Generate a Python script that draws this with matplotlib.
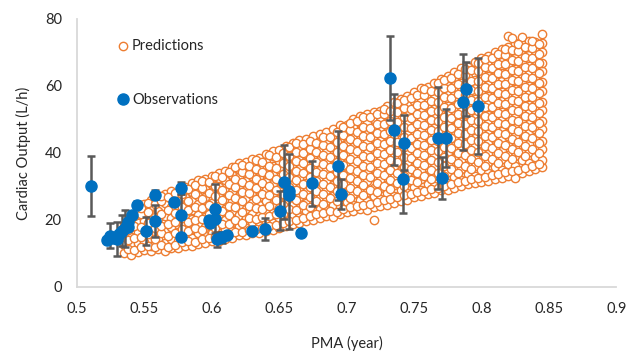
import matplotlib.pyplot as plt

plt.rcParams['font.family'] = ['Lato', 'DejaVu Sans']

pred_cols = [0.535, 0.540, 0.545, 0.550, 0.555, 0.560, 0.565, 0.570, 0.575, 0.580,
             0.585, 0.590, 0.595, 0.600, 0.605, 0.610, 0.615, 0.620, 0.625, 0.630,
             0.635, 0.640, 0.645, 0.650, 0.655, 0.660, 0.665, 0.670, 0.675, 0.680,
             0.685, 0.690, 0.695, 0.700, 0.705, 0.710, 0.715, 0.720, 0.725, 0.730,
             0.735, 0.740, 0.745, 0.750, 0.755, 0.760, 0.765, 0.770, 0.775, 0.780,
             0.785, 0.790, 0.795, 0.800, 0.805, 0.810, 0.815, 0.820, 0.825, 0.830,
             0.835, 0.840, 0.845]
pred_vals = [
    [10.2, 12.6, 15.8, 18.4],
    [9.6, 12.9, 14.8, 17.9, 20.7],
    [10.4, 13.2, 16.5, 19.1, 22.6],
    [11.0, 13.4, 17.3, 19.8, 23.1, 24.8],
    [10.6, 12.1, 15.7, 18.2, 21.6, 24.3, 25.9],
    [11.3, 14.4, 16.9, 20.4, 22.8, 26.1],
    [10.7, 13.0, 16.3, 19.1, 21.2, 24.9, 27.6],
    [11.6, 14.2, 17.8, 20.6, 23.9, 26.2, 28.7],
    [11.5, 13.6, 16.4, 19.7, 22.1, 25.6, 27.9],
    [12.3, 15.1, 18.6, 21.0, 24.3, 26.8, 29.8],
    [12.1, 14.7, 17.2, 20.3, 22.9, 26.0, 28.4, 30.9],
    [12.8, 16.0, 18.9, 21.4, 24.7, 27.2, 30.3, 31.8],
    [13.0, 15.3, 17.8, 20.9, 23.6, 26.7, 29.1, 32.3],
    [13.6, 16.2, 19.4, 22.6, 25.0, 28.3, 30.6, 33.0],
    [13.7, 15.5, 18.6, 21.7, 24.2, 27.5, 29.9, 32.6, 34.1],
    [14.3, 17.4, 20.1, 23.3, 26.1, 28.6, 31.8, 34.6],
    [14.6, 16.7, 19.3, 22.6, 25.7, 28.2, 30.9, 33.5, 35.8],
    [15.4, 18.2, 21.5, 23.9, 27.0, 29.6, 32.8, 35.3, 36.9],
    [15.6, 17.5, 20.6, 23.2, 26.4, 29.0, 31.7, 34.8, 37.2],
    [16.2, 19.3, 21.8, 24.9, 27.5, 30.7, 33.2, 36.4, 38.1],
    [16.0, 18.1, 21.3, 24.5, 26.8, 30.2, 32.7, 35.6, 38.6],
    [16.8, 19.7, 22.4, 25.6, 28.9, 31.3, 34.1, 37.4, 39.8],
    [17.1, 19.0, 22.0, 24.7, 27.6, 30.8, 33.5, 36.2, 39.1, 40.6],
    [17.7, 20.6, 23.5, 26.1, 29.3, 32.0, 35.2, 37.7, 40.9],
    [18.1, 20.1, 22.7, 25.9, 28.4, 31.6, 34.3, 37.2, 40.0, 42.0],
    [18.7, 21.4, 24.5, 27.0, 30.3, 33.1, 35.7, 38.9, 41.5, 43.1],
    [19.0, 20.8, 23.6, 26.8, 29.4, 32.4, 35.3, 38.0, 41.2, 43.9],
    [19.8, 22.6, 25.1, 28.3, 30.9, 34.2, 36.7, 39.6, 42.4, 44.2],
    [20.1, 21.7, 24.8, 27.5, 30.7, 33.4, 36.5, 39.1, 42.0, 44.9],
    [20.7, 23.3, 26.6, 29.1, 32.4, 35.0, 37.8, 41.0, 43.5, 45.6],
    [21.2, 23.0, 25.7, 28.9, 31.5, 34.8, 37.3, 40.2, 43.4, 46.1],
    [21.0, 24.5, 27.1, 30.4, 33.0, 36.1, 38.7, 41.9, 44.5, 47.0],
    [21.7, 23.8, 26.9, 29.6, 32.8, 35.4, 38.6, 41.2, 44.3, 46.8, 48.3],
    [22.3, 25.3, 27.9, 31.2, 33.7, 36.9, 39.5, 42.8, 45.3, 48.4],
    [22.6, 24.6, 27.7, 30.3, 33.5, 36.1, 39.4, 41.9, 45.2, 47.7, 50.1],
    [23.2, 26.0, 29.2, 31.8, 35.0, 37.5, 40.7, 43.3, 46.6, 49.1, 51.0],
    [23.0, 25.5, 28.3, 31.5, 34.1, 37.3, 39.9, 43.2, 45.7, 48.9, 51.7],
    [20.1, 23.8, 27.0, 29.6, 32.9, 35.4, 38.7, 41.2, 44.5, 47.0, 50.2, 52.3],
    [24.1, 26.3, 29.4, 32.0, 35.3, 37.8, 41.1, 43.6, 46.9, 49.4, 52.6],
    [24.6, 27.9, 30.5, 33.8, 36.3, 39.6, 42.1, 45.4, 47.9, 51.2, 53.9],
    [25.1, 27.2, 30.3, 32.9, 36.2, 38.7, 42.0, 44.5, 47.8, 50.3, 53.6, 55.2],
    [25.7, 28.8, 31.4, 34.7, 37.2, 40.5, 43.0, 46.3, 48.8, 52.1, 54.6, 56.1],
    [26.0, 28.1, 31.2, 33.8, 37.1, 39.6, 42.9, 45.4, 48.7, 51.2, 54.5, 57.0],
    [26.8, 29.9, 32.4, 35.7, 38.2, 41.5, 44.0, 47.3, 49.8, 53.1, 55.6, 58.1],
    [27.1, 29.0, 32.3, 34.8, 38.1, 40.6, 43.9, 46.4, 49.7, 52.2, 55.5, 58.0, 59.3],
    [27.7, 30.8, 33.3, 36.6, 39.1, 42.4, 44.9, 48.2, 50.7, 54.0, 56.5, 59.6],
    [28.1, 30.0, 33.2, 35.7, 39.0, 41.5, 44.8, 47.3, 50.6, 53.1, 56.4, 58.9, 61.0],
    [28.8, 31.8, 34.3, 37.6, 40.1, 43.4, 45.9, 49.2, 51.7, 55.0, 57.5, 60.8, 62.2],
    [29.0, 31.0, 34.2, 36.7, 40.0, 42.5, 45.8, 48.3, 51.6, 54.1, 57.4, 59.9, 62.9],
    [29.6, 32.8, 35.3, 38.6, 41.1, 44.4, 46.9, 50.2, 52.7, 56.0, 58.5, 61.8, 64.1],
    [30.1, 32.0, 35.2, 37.7, 41.0, 43.5, 46.8, 49.3, 52.6, 55.1, 58.4, 60.9, 64.2, 65.3],
    [30.7, 33.8, 36.3, 39.6, 42.1, 45.4, 47.9, 51.2, 53.7, 57.0, 59.5, 62.8, 65.5],
    [31.0, 33.0, 36.2, 38.7, 42.0, 44.5, 47.8, 50.3, 53.6, 56.1, 59.4, 61.9, 65.2, 67.1],
    [31.4, 34.8, 37.3, 40.6, 43.1, 46.4, 48.9, 52.2, 54.7, 58.0, 60.5, 63.8, 66.3, 68.2],
    [31.6, 34.0, 37.2, 39.7, 43.0, 45.5, 48.8, 51.3, 54.6, 57.1, 60.4, 62.9, 66.2, 68.9],
    [32.2, 35.8, 38.3, 41.6, 44.1, 47.4, 49.9, 53.2, 55.7, 59.0, 61.5, 64.8, 67.3, 70.1],
    [32.6, 35.0, 38.2, 40.7, 44.0, 46.5, 49.8, 52.3, 55.6, 58.1, 61.4, 63.9, 67.2, 69.7, 71.0],
    [33.2, 36.8, 39.3, 42.6, 45.1, 48.4, 50.9, 54.2, 56.7, 60.0, 62.5, 65.8, 68.3, 71.6, 74.8],
    [32.6, 36.0, 39.2, 41.7, 45.0, 47.5, 50.8, 53.3, 56.6, 59.1, 62.4, 64.9, 68.2, 70.7, 72.8],
    [34.1, 37.8, 40.3, 43.6, 46.1, 49.4, 51.9, 55.2, 57.7, 61.0, 63.5, 66.8, 69.3, 72.6, 74.6],
    [34.6, 37.0, 40.2, 42.7, 46.0, 48.5, 51.8, 54.3, 57.6, 60.1, 63.4, 65.9, 69.2, 71.7, 73.3],
    [35.2, 38.8, 41.3, 44.6, 47.1, 50.4, 52.9, 56.2, 58.7, 62.0, 64.5, 67.8, 70.3, 73.1],
    [35.8, 38.0, 41.2, 43.7, 47.0, 49.5, 52.8, 55.3, 58.6, 61.1, 64.4, 66.9, 70.2, 72.7, 75.5],
]

# second set of prediction columns, between the first ones
pred_cols_b = [0.5375, 0.5425, 0.5475, 0.5525, 0.5575, 0.5625, 0.5675, 0.5725, 0.5775, 0.5825,
               0.5875, 0.5925, 0.5975, 0.6025, 0.6075, 0.6125, 0.6175, 0.6225, 0.6275, 0.6325,
               0.6375, 0.6425, 0.6475, 0.6525, 0.6575, 0.6625, 0.6675, 0.6725, 0.6775, 0.6825,
               0.6875, 0.6925, 0.6975, 0.7025, 0.7075, 0.7125, 0.7175, 0.7225, 0.7275, 0.7325,
               0.7375, 0.7425, 0.7475, 0.7525, 0.7575, 0.7625, 0.7675, 0.7725, 0.7775, 0.7825,
               0.7875, 0.7925, 0.7975, 0.8025, 0.8075, 0.8125, 0.8175, 0.8225, 0.8275, 0.8325,
               0.8375, 0.8425]
pred_vals_b = [
    [11.4, 14.1, 17.0, 19.6],
    [10.9, 14.6, 18.3, 21.2],
    [11.8, 15.0, 18.0, 21.7, 23.6],
    [12.2, 15.9, 19.0, 22.3, 25.0],
    [11.9, 14.2, 17.6, 21.0, 24.8],
    [12.5, 16.1, 18.3, 21.9, 25.6, 27.2],
    [11.8, 15.3, 18.8, 23.0, 26.7],
    [12.6, 16.0, 19.4, 22.0, 25.1, 28.1],
    [13.4, 17.3, 20.5, 24.0, 27.8],
    [13.6, 16.6, 19.5, 23.1, 25.7, 29.3],
    [13.3, 17.6, 20.0, 24.0, 27.6, 30.4],
    [14.2, 17.0, 20.4, 23.5, 26.1, 29.4, 31.6],
    [14.6, 18.4, 21.9, 24.6, 28.0, 31.3],
    [14.9, 17.5, 20.7, 23.8, 27.1, 30.1, 33.2],
    [15.0, 18.9, 22.6, 25.8, 28.9, 32.9],
    [15.8, 18.7, 21.5, 24.3, 27.4, 30.8, 34.4],
    [16.3, 19.9, 23.9, 26.4, 29.8, 32.2, 35.9],
    [16.5, 19.0, 22.4, 25.5, 28.4, 31.3, 34.2, 36.5],
    [17.1, 20.5, 24.1, 27.9, 30.5, 33.8, 36.1],
    [17.2, 20.2, 23.6, 26.1, 29.4, 32.2, 35.2, 37.9],
    [17.6, 20.8, 23.4, 27.8, 31.1, 34.4, 37.2],
    [18.1, 21.2, 24.3, 27.3, 30.1, 33.4, 36.0, 39.4],
    [18.5, 21.9, 26.0, 29.0, 32.2, 35.6, 38.8],
    [19.2, 21.7, 24.6, 27.8, 30.8, 33.6, 36.9, 40.1],
    [19.6, 23.4, 26.9, 29.8, 32.9, 36.1, 39.2, 41.8],
    [20.1, 22.9, 25.8, 28.9, 31.9, 34.7, 37.7, 40.4, 43.0],
    [20.6, 24.6, 27.8, 30.8, 33.9, 37.0, 39.9, 42.8],
    [21.1, 23.9, 26.9, 29.9, 32.8, 35.6, 38.4, 41.3, 43.6],
    [21.9, 25.7, 28.6, 31.6, 34.3, 37.4, 40.2, 43.0],
    [22.2, 24.8, 27.8, 30.6, 33.6, 36.6, 39.4, 42.4, 44.8],
    [22.6, 26.6, 29.8, 33.0, 35.9, 38.7, 41.7, 44.6],
    [22.5, 25.6, 28.6, 31.6, 34.4, 37.4, 40.4, 43.3, 46.1],
    [23.3, 27.3, 30.7, 33.5, 36.5, 39.3, 42.2, 45.3, 47.6],
    [23.8, 26.6, 29.5, 32.4, 35.3, 38.2, 41.1, 44.0, 46.9, 49.0],
    [24.3, 28.6, 31.6, 34.6, 37.6, 40.5, 43.4, 46.3, 49.5],
    [24.6, 27.5, 30.4, 33.3, 36.2, 39.2, 42.1, 44.9, 47.8, 50.6],
    [24.8, 29.0, 32.7, 35.9, 38.9, 41.9, 44.7, 47.4, 50.8],
    [25.4, 28.3, 31.1, 34.1, 37.1, 40.0, 42.9, 45.8, 48.7, 51.5],
    [25.8, 30.1, 33.3, 36.6, 39.8, 42.7, 45.6, 48.6, 51.6, 53.0],
    [26.2, 29.1, 32.0, 34.9, 37.9, 40.8, 43.7, 46.6, 49.6, 52.4],
    [26.7, 30.9, 34.1, 37.3, 40.4, 43.4, 46.4, 49.2, 52.2, 54.8],
    [27.3, 30.2, 33.0, 35.9, 38.8, 41.8, 44.7, 47.6, 50.6, 53.4, 55.9],
    [27.6, 32.0, 35.2, 38.4, 41.4, 44.4, 47.3, 50.3, 53.2, 56.4],
    [28.3, 31.2, 34.0, 36.9, 39.9, 42.8, 45.7, 48.7, 51.6, 54.4, 57.3],
    [28.7, 33.1, 36.3, 39.5, 42.4, 45.4, 48.4, 51.3, 54.2, 57.2, 59.0],
    [29.2, 32.1, 35.0, 37.9, 40.9, 43.8, 46.8, 49.7, 52.6, 55.5, 58.4],
    [29.6, 34.1, 37.2, 40.5, 43.5, 46.4, 49.4, 52.4, 55.3, 58.2, 60.8],
    [30.2, 33.1, 36.0, 38.9, 41.9, 44.8, 47.7, 50.7, 53.6, 56.6, 59.5, 61.9],
    [30.6, 35.1, 38.3, 41.5, 44.5, 47.5, 50.5, 53.4, 56.3, 59.3, 62.3],
    [31.2, 34.1, 37.0, 40.0, 42.9, 45.8, 48.8, 51.7, 54.7, 57.6, 60.6, 63.4],
    [31.6, 36.1, 39.3, 42.6, 45.5, 48.5, 51.5, 54.4, 57.4, 60.3, 63.3, 65.0],
    [32.2, 35.2, 38.1, 41.0, 43.9, 46.9, 49.8, 52.8, 55.7, 58.7, 61.6, 64.6],
    [32.5, 37.2, 40.3, 43.6, 46.6, 49.6, 52.5, 55.5, 58.4, 61.4, 64.3, 66.8],
    [32.9, 36.1, 39.1, 42.0, 45.0, 47.9, 50.9, 53.8, 56.8, 59.7, 62.7, 65.6, 67.9],
    [33.3, 38.2, 41.4, 44.6, 47.6, 50.6, 53.6, 56.5, 59.5, 62.4, 65.4, 68.3],
    [33.8, 37.1, 40.1, 43.0, 46.0, 48.9, 51.9, 54.8, 57.8, 60.7, 63.7, 66.6, 69.6],
    [34.3, 39.2, 42.4, 45.6, 48.6, 51.6, 54.6, 57.5, 60.5, 63.4, 66.4, 69.3, 70.9],
    [34.6, 38.1, 41.1, 44.0, 47.0, 49.9, 52.9, 55.8, 58.8, 61.7, 64.7, 67.6, 70.6, 74.4],
    [35.0, 40.2, 43.4, 46.6, 49.6, 52.6, 55.6, 58.5, 61.5, 64.4, 67.4, 70.3, 72.4],
    [35.6, 39.1, 42.1, 45.0, 48.0, 50.9, 53.9, 56.8, 59.8, 62.7, 65.7, 68.6, 71.6],
    [36.1, 41.2, 44.4, 47.6, 50.6, 53.6, 56.6, 59.5, 62.5, 65.4, 68.4, 71.3, 73.4],
    [36.6, 40.1, 43.1, 46.0, 49.0, 51.9, 54.9, 57.8, 60.8, 63.7, 66.7, 69.6, 72.6],
]

# observations (mean and error bar half width)
obs_x = [0.510, 0.522, 0.5245, 0.526, 0.5295, 0.531, 0.533, 0.5357, 0.5374, 0.538,
         0.5406, 0.5448, 0.5513, 0.558, 0.558, 0.5716, 0.5773, 0.5773, 0.5773, 0.5976,
         0.5985, 0.602, 0.6025, 0.6038, 0.6075, 0.611, 0.6298, 0.6397, 0.6508, 0.6533,
         0.6575, 0.6575, 0.6664, 0.6744, 0.6937, 0.6961, 0.7325, 0.735, 0.7424, 0.742,
         0.768, 0.7734, 0.771, 0.7888, 0.7863, 0.7977]
obs_y = [30.2, 14.0, 15.3, 14.7, 14.3, 15.8, 16.8, 17.5, 17.8, 19.5,
         21.5, 24.5, 16.7, 27.5, 19.8, 25.3, 29.5, 21.6, 14.8, 20.0,
         19.0, 23.3, 20.3, 14.2, 14.8, 15.5, 16.8, 17.2, 22.8, 31.4,
         28.5, 27.5, 16.2, 31.0, 36.2, 27.8, 62.3, 46.9, 43.1, 32.2,
         44.4, 44.4, 32.6, 59.1, 55.3, 54.1]
obs_err = [9.0, 0, 3.8, 0, 5.2, 0, 4.7, 5.5, 0, 0,
           0, 1.0, 4.3, 1.3, 4.8, 0, 1.7, 6.2, 0, 0,
           0, 7.3, 0, 2.2, 1.7, 0, 0, 3.3, 5.7, 11.0,
           11.3, 0, 0, 6.7, 10.2, 4.5, 12.5, 10.6, 8.3, 10.0,
           15.2, 8.6, 6.3, 8.1, 14.3, 14.3]

pred_x = []
pred_y = []
for cols, vals in [(pred_cols, pred_vals), (pred_cols_b, pred_vals_b)]:
    for cx, ys in zip(cols, vals):
        for yv in ys:
            pred_x.append(cx)
            pred_y.append(yv)

fig = plt.figure(figsize=(6.32, 3.56), dpi=100)
ax = fig.add_axes([0.122, 0.194, 0.853, 0.753])

ax.scatter(pred_x, pred_y, s=36, facecolor='white', edgecolor='#ED7D31',
           linewidth=1.0, label='Predictions', zorder=2)
ax.errorbar(obs_x, obs_y, yerr=obs_err, fmt='none', ecolor='#595959',
            elinewidth=1.8, capsize=3, capthick=1.8, zorder=3)
ax.plot(obs_x, obs_y, 'o', color='#0070C0', markersize=8, label='Observations', zorder=4)

ax.set_xlim(0.5, 0.9)
ax.set_ylim(0, 80)
ax.set_xticks([0.5, 0.55, 0.6, 0.65, 0.7, 0.75, 0.8, 0.85, 0.9])
ax.set_xticklabels(['0.5', '0.55', '0.6', '0.65', '0.7', '0.75', '0.8', '0.85', '0.9'])
ax.set_yticks([0, 20, 40, 60, 80])
ax.tick_params(length=0, labelsize=10.5, colors='#262626', pad=11)

for side in ['top', 'right']:
    ax.spines[side].set_visible(False)
for side in ['left', 'bottom']:
    ax.spines[side].set_color('#D9D9D9')
    ax.spines[side].set_linewidth(1.3)

ax.set_xlabel('PMA (year)', fontsize=10.5, color='#262626', labelpad=14)
ax.set_ylabel('Cardiac Output (L/h)', fontsize=10.5, color='#262626', labelpad=10)

ax.legend(loc='upper left', bbox_to_anchor=(0.045, 0.975), frameon=False,
          fontsize=10.5, labelspacing=2.75, handletextpad=0.0, handlelength=1.2,
          labelcolor='#262626')

fig.savefig('out.png', dpi=100)
